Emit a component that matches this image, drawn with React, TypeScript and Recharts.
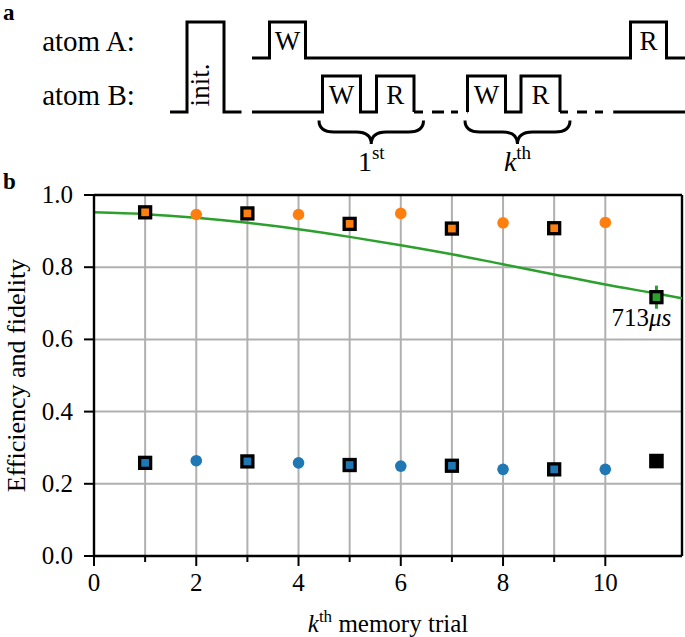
import React from 'react';
import {
  ComposedChart,
  Line,
  Scatter,
  XAxis,
  YAxis,
  CartesianGrid,
  ReferenceLine,
  ErrorBar,
  Label,
} from 'recharts';

const FONT = 'Liberation Serif, DejaVu Serif, serif';
const ORANGE = '#ff7f0e';
const BLUE = '#1f77b4';
const GREEN = '#2ca02c';
const GRID = '#b0b0b0';

// ---------------- panel a : pulse schematic (time axis, arbitrary units) ----------------
const levelA = { low: 58, high: 22 };
const levelB = { low: 112, high: 76 };
const initWindow = [170, 241.5];
const initPulse = [187, 224];
const atomAWindow = [252, 685];
const atomAPulses: [number, number, string][] = [
  [269.5, 305.5, 'W'],
  [630.5, 666.5, 'R'],
];
const atomBFirstWindow = [252, 414];
const atomBFirstPulses: [number, number, string][] = [
  [322.5, 360.5, 'W'],
  [376.5, 414, 'R'],
];
const atomBGap1 = [414, 467.5];
const atomBKthWindow = [467.5, 560];
const atomBKthPulses: [number, number, string][] = [
  [467.5, 505.5, 'W'],
  [521, 560, 'R'],
];
const atomBGap2 = [560, 613.5];
const atomBTail = [613.5, 685];
const braceSpans: [number, number, string][] = [
  [319, 423.5, '1st'],
  [465, 570, 'kth'],
];
const rowLabels = [
  { t: 88.5, y: (levelA.low + levelA.high) / 2, text: 'atom A:' },
  { t: 88.5, y: (levelB.low + levelB.high) / 2, text: 'atom B:' },
];
const panelLabels = [
  { t: 3, y: 20, text: 'a' },
  { t: 3, y: 189, text: 'b' },
];

// ---------------- panel b : data ----------------
const oddTrials = [1, 3, 5, 7, 9];
const evenTrials = [2, 4, 6, 8, 10];
const fidelitySquares = [0.952, 0.949, 0.92, 0.907, 0.908];
const fidelityCircles = [0.946, 0.946, 0.949, 0.923, 0.924];
const efficiencySquares = [0.258, 0.262, 0.252, 0.25, 0.24];
const efficiencyCircles = [0.264, 0.258, 0.249, 0.24, 0.24];
const longTrial = 11;
const longEfficiency = 0.263;
const longFidelity = 0.717;
const longFidelityErr = 0.032;
const longLabel = '713';
const fitTrials = [0, 1, 2, 3, 4, 5, 6, 7, 8, 9, 10, 11, 11.5];
const fitValues = [0.952, 0.947, 0.937, 0.923, 0.905, 0.884, 0.861, 0.836, 0.808, 0.78, 0.752, 0.727, 0.714];
const xTicks = [0, 1, 2, 3, 4, 5, 6, 7, 8, 9, 10];
const yTicks = [0, 0.2, 0.4, 0.6, 0.8, 1.0];

// ---------------- builders ----------------
function trace(span: number[], pulses: [number, number, string][], low: number, high: number) {
  const pts: { t: number; y: number }[] = [{ t: span[0], y: low }];
  pulses.forEach(([s, e]) => {
    pts.push({ t: s, y: low }, { t: s, y: high }, { t: e, y: high }, { t: e, y: low });
  });
  pts.push({ t: span[1], y: low });
  return pts;
}
const flat = (span: number[], low: number) => [
  { t: span[0], y: low },
  { t: span[1], y: low },
];

const initTrace = trace(initWindow, [[initPulse[0], initPulse[1], 'init.']], levelB.low, levelA.high);
const atomATrace = trace(atomAWindow, atomAPulses, levelA.low, levelA.high);
const atomBFirst = trace(atomBFirstWindow, atomBFirstPulses, levelB.low, levelB.high);
const atomBKth = trace(atomBKthWindow, atomBKthPulses, levelB.low, levelB.high);
const gap1 = flat(atomBGap1, levelB.low);
const gap2 = flat(atomBGap2, levelB.low);
const tail = flat(atomBTail, levelB.low);

const pulseLabels = [
  ...atomAPulses.map(([s, e, l]) => ({ t: (s + e) / 2, y: (levelA.low + levelA.high) / 2, text: l })),
  ...atomBFirstPulses.map(([s, e, l]) => ({ t: (s + e) / 2, y: (levelB.low + levelB.high) / 2, text: l })),
  ...atomBKthPulses.map(([s, e, l]) => ({ t: (s + e) / 2, y: (levelB.low + levelB.high) / 2, text: l })),
];
const initLabel = [{ t: (initPulse[0] + initPulse[1]) / 2, y: (levelB.low + levelA.high) / 2, text: 'init.' }];
const braces = braceSpans.map(([s, e, l]) => ({ t: (s + e) / 2, y: 120.5, half: (e - s) / 2, text: l }));

const fidSq = oddTrials.map((x, i) => ({ x, y: fidelitySquares[i] }));
const fidCi = evenTrials.map((x, i) => ({ x, y: fidelityCircles[i] }));
const effSq = oddTrials.map((x, i) => ({ x, y: efficiencySquares[i] }));
const effCi = evenTrials.map((x, i) => ({ x, y: efficiencyCircles[i] }));
const longEff = [{ x: longTrial, y: longEfficiency }];
const longFid = [{ x: longTrial, y: longFidelity, err: longFidelityErr, text: longLabel }];
const fit = fitTrials.map((x, i) => ({ x, y: fitValues[i] }));

// ---------------- shapes ----------------
const txt = { fontFamily: FONT, fill: '#000' } as const;

const PulseText = (p: any) => (
  <text x={p.cx} y={p.cy + 10} textAnchor="middle" fontSize={27} style={txt}>
    {p.payload.text}
  </text>
);
const RowText = (p: any) => (
  <text x={p.cx} y={p.cy + 11} textAnchor="middle" fontSize={29} style={txt}>
    {p.payload.text}
  </text>
);
const PanelText = (p: any) => (
  <text x={p.cx} y={p.cy} textAnchor="start" fontSize={23} fontWeight="bold" style={txt}>
    {p.payload.text}
  </text>
);
const InitText = (p: any) => (
  <text
    transform={`translate(${p.cx + 3},${p.cy + 18}) rotate(-90)`}
    textAnchor="middle"
    fontSize={27}
    style={txt}
  >
    {p.payload.text}
  </text>
);
const BraceShape = (p: any) => {
  const w = p.payload.half;
  const x = p.cx;
  const y = p.cy;
  const m = y + 11.5;
  const tip = y + 23.5;
  const d = `M ${x - w} ${y} C ${x - w} ${y + 8} ${x - w + 6} ${m} ${x - w + 15} ${m} L ${x - 15} ${m} C ${x - 6} ${m} ${x} ${m + 3} ${x} ${tip} C ${x} ${m + 3} ${x + 6} ${m} ${x + 15} ${m} L ${x + w - 15} ${m} C ${x + w - 6} ${m} ${x + w} ${y + 8} ${x + w} ${y}`;
  return <path d={d} fill="none" stroke="#000" strokeWidth={3} />;
};
const BraceText = (p: any) => {
  const t: string = p.payload.text;
  const main = t.slice(0, 1);
  const sup = t.slice(1);
  return (
    <text x={p.cx} y={p.cy + 50} textAnchor="middle" fontSize={28} style={txt}>
      <tspan fontStyle={main === 'k' ? 'italic' : 'normal'}>{main}</tspan>
      <tspan fontSize={19} dy={-12}>
        {sup}
      </tspan>
    </text>
  );
};

const borderedSquare = (fill: string) => (p: any) => (
  <rect x={p.cx - 5.5} y={p.cy - 5.5} width={11} height={11} fill={fill} stroke="#000" strokeWidth={3.3} />
);
const dot = (fill: string) => (p: any) => <circle cx={p.cx} cy={p.cy} r={5.8} fill={fill} />;
const solidSquare = (p: any) => <rect x={p.cx - 7.3} y={p.cy - 7.3} width={14.6} height={14.6} fill="#000" />;
const TimeLabel = (p: any) => (
  <text x={p.cx - 15} y={p.cy + 29} textAnchor="middle" fontSize={25} style={txt}>
    {p.payload.text}
    <tspan fontStyle="italic">μs</tspan>
  </text>
);

const XTick = (p: any) => {
  const { x, y, payload } = p;
  const v = payload.value;
  const major = v % 2 === 0;
  return (
    <g>
      <line x1={x} x2={x} y1={y} y2={y + (major ? 10 : 6)} stroke="#000" strokeWidth={2} />
      {major && (
        <text x={x} y={y + 35} textAnchor="middle" fontSize={25} style={txt}>
          {v}
        </text>
      )}
    </g>
  );
};
const YTick = (p: any) => {
  const { x, y, payload } = p;
  return (
    <g>
      <line x1={x - 10} x2={x} y1={y} y2={y} stroke="#000" strokeWidth={2} />
      <text x={x - 21} y={y + 8} textAnchor="end" fontSize={25} style={txt}>
        {Number(payload.value).toFixed(1)}
      </text>
    </g>
  );
};
const XTitle = (p: any) => {
  const vb = p.viewBox || { x: 94, y: 556, width: 588, height: 81 };
  return (
    <text x={vb.x + vb.width / 2} y={vb.y + 76} textAnchor="middle" fontSize={25} style={txt}>
      <tspan fontStyle="italic">k</tspan>
      <tspan fontSize={17} dy={-10}>
        th
      </tspan>
      <tspan dy={10}>{'\u00a0memory trial'}</tspan>
    </text>
  );
};
const YTitle = (p: any) => {
  const vb = p.viewBox || { x: 0, y: 195, width: 94, height: 361 };
  const cx = vb.x + 25;
  const cy = vb.y + vb.height / 2;
  return (
    <text transform={`translate(${cx},${cy}) rotate(-90)`} textAnchor="middle" fontSize={26} style={txt}>
      Efficiency and fidelity
    </text>
  );
};

function TopPanel() {
  const lineProps = {
    dataKey: 'y',
    type: 'linear' as const,
    stroke: '#000',
    strokeWidth: 3,
    dot: false,
    activeDot: false,
    isAnimationActive: false,
  };
  return (
    <ComposedChart width={685} height={195} margin={{ top: 0, right: 0, bottom: 0, left: 0 }}>
      <XAxis hide type="number" dataKey="t" domain={[0, 685]} allowDataOverflow />
      <YAxis hide type="number" domain={[0, 195]} reversed allowDataOverflow />
      <Line {...lineProps} data={initTrace} />
      <Line {...lineProps} data={atomATrace} />
      <Line {...lineProps} data={atomBFirst} />
      <Line {...lineProps} data={gap1} strokeDasharray="9 9 12 7 7 9" />
      <Line {...lineProps} data={atomBKth} />
      <Line {...lineProps} data={gap2} strokeDasharray="8 9 10 8 8 10" />
      <Line {...lineProps} data={tail} />
      <Scatter data={pulseLabels} dataKey="y" shape={PulseText} isAnimationActive={false} />
      <Scatter data={rowLabels} dataKey="y" shape={RowText} isAnimationActive={false} />
      <Scatter data={panelLabels} dataKey="y" shape={PanelText} isAnimationActive={false} />
      <Scatter data={initLabel} dataKey="y" shape={InitText} isAnimationActive={false} />
      <Scatter data={braces} dataKey="y" shape={BraceShape} isAnimationActive={false} />
      <Scatter data={braces} dataKey="y" shape={BraceText} isAnimationActive={false} />
    </ComposedChart>
  );
}

function BottomPanel() {
  return (
    <ComposedChart width={685} height={637} margin={{ top: 195, right: 3, bottom: 0, left: 0 }}>
      <CartesianGrid stroke={GRID} strokeWidth={2} />
      <XAxis
        type="number"
        dataKey="x"
        domain={[0, 11.5]}
        ticks={xTicks}
        interval={0}
        allowDataOverflow
        height={81}
        axisLine={{ stroke: '#000', strokeWidth: 2.4 }}
        tickLine={false}
        tickSize={0}
        tickMargin={0}
        tick={<XTick />}
      >
        <Label content={<XTitle />} />
      </XAxis>
      <YAxis
        type="number"
        domain={[0, 1]}
        ticks={yTicks}
        interval={0}
        allowDataOverflow
        width={94}
        axisLine={{ stroke: '#000', strokeWidth: 2.4 }}
        tickLine={false}
        tickSize={0}
        tickMargin={0}
        tick={<YTick />}
      >
        <Label content={<YTitle />} />
      </YAxis>
      <ReferenceLine y={1} stroke="#000" strokeWidth={2.4} />
      <ReferenceLine x={11.5} stroke="#000" strokeWidth={2.4} />
      <Line
        data={fit}
        dataKey="y"
        type="monotone"
        stroke={GREEN}
        strokeWidth={2.5}
        dot={false}
        activeDot={false}
        isAnimationActive={false}
      />
      <Scatter data={fidCi} dataKey="y" shape={dot(ORANGE)} isAnimationActive={false} />
      <Scatter data={fidSq} dataKey="y" shape={borderedSquare(ORANGE)} isAnimationActive={false} />
      <Scatter data={effCi} dataKey="y" shape={dot(BLUE)} isAnimationActive={false} />
      <Scatter data={effSq} dataKey="y" shape={borderedSquare(BLUE)} isAnimationActive={false} />
      <Scatter data={longEff} dataKey="y" shape={solidSquare} isAnimationActive={false} />
      <Scatter data={longFid} dataKey="y" shape={borderedSquare(GREEN)} isAnimationActive={false}>
        <ErrorBar dataKey="err" direction="y" width={0} stroke={GREEN} strokeWidth={3} />
      </Scatter>
      <Scatter data={longFid} dataKey="y" shape={TimeLabel} isAnimationActive={false} />
    </ComposedChart>
  );
}

export default function App() {
  return (
    <div
      style={{
        position: 'absolute',
        left: 0,
        top: 0,
        width: 685,
        height: 637,
        background: '#fff',
        overflow: 'hidden',
        fontFamily: FONT,
      }}
    >
      <div style={{ position: 'absolute', left: 0, top: 0 }}>
        <TopPanel />
      </div>
      <div style={{ position: 'absolute', left: 0, top: 0 }}>
        <BottomPanel />
      </div>
    </div>
  );
}
